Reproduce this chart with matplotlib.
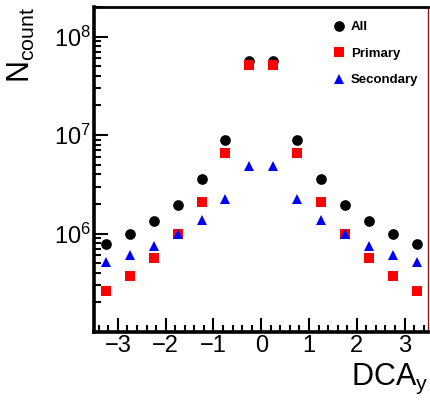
import matplotlib
matplotlib.use("Agg")
import matplotlib.pyplot as plt
from matplotlib.ticker import FixedLocator, MultipleLocator, LogLocator, NullFormatter

plt.rcParams["font.family"] = ["Liberation Sans", "DejaVu Sans"]
plt.rcParams["mathtext.fontset"] = "custom"
plt.rcParams["mathtext.rm"] = "Liberation Sans"
plt.rcParams["mathtext.it"] = "Liberation Sans:italic"
plt.rcParams["mathtext.bf"] = "Liberation Sans:bold"

# DCA_y bin centres
dca_y = [-3.25, -2.75, -2.25, -1.75, -1.25, -0.75, -0.25,
         0.25, 0.75, 1.25, 1.75, 2.25, 2.75, 3.25]

# counts per bin
n_all = [7.8e5, 1.0e6, 1.35e6, 1.97e6, 3.6e6, 8.9e6, 5.7e7,
         5.7e7, 8.9e6, 3.6e6, 1.97e6, 1.35e6, 1.0e6, 7.8e5]
n_primary = [2.6e5, 3.7e5, 5.7e5, 1.0e6, 2.1e6, 6.6e6, 5.1e7,
             5.1e7, 6.6e6, 2.1e6, 1.0e6, 5.7e5, 3.7e5, 2.6e5]
n_secondary = [5.1e5, 6.1e5, 7.5e5, 1.0e6, 1.37e6, 2.25e6, 4.9e6,
               4.9e6, 2.25e6, 1.37e6, 1.0e6, 7.5e5, 6.1e5, 5.1e5]

x_ticks = [-3, -2, -1, 0, 1, 2, 3]
y_ticks = [1e6, 1e7, 1e8]

fig = plt.figure(figsize=(4.31, 4.04), dpi=100)
ax = fig.add_axes([94 / 431, 1 - 332 / 404, 334.5 / 431, 325 / 404])

ms = 7.7
ax.plot(dca_y, n_all, "o", color="black", ms=ms, mew=0, label="All", zorder=3)
ax.plot(dca_y, n_primary, "s", color="#ff0000", ms=ms, mew=0, label="Primary", zorder=4)
ax.plot(dca_y, n_secondary, "^", color="#0000ff", ms=ms, mew=0, label="Secondary", zorder=5)

ax.set_yscale("log")
ax.set_xlim(-3.5, 3.5)
ax.set_ylim(1.0e5, 2.0e8)

ax.xaxis.set_major_locator(FixedLocator(x_ticks))
ax.xaxis.set_minor_locator(MultipleLocator(0.2))
ax.yaxis.set_major_locator(FixedLocator(y_ticks))
ax.yaxis.set_minor_locator(LogLocator(base=10, subs=range(2, 10)))
ax.yaxis.set_minor_formatter(NullFormatter())

ax.tick_params(which="both", direction="in", top=False, right=False, width=1.5)
ax.tick_params(which="major", length=10, labelsize=17)
ax.tick_params(which="minor", length=5)
ax.tick_params(axis="x", pad=2)
ax.tick_params(axis="y", pad=2)

for side in ("left", "bottom"):
    ax.spines[side].set_linewidth(2.6)
ax.spines["top"].set_linewidth(2.0)
ax.spines["right"].set_linewidth(1.0)
ax.spines["right"].set_color("#8b1a1a")

ax.set_xlabel(r"DCA$_{\mathrm{y}}$", fontsize=22, loc="right")
ax.xaxis.set_label_coords(1.0, -0.093)
ax.set_ylabel(r"N$_{\mathrm{count}}$", fontsize=22, loc="top")
ax.yaxis.set_label_coords(-0.17, 1.0)

leg = ax.legend(loc="upper left", bbox_to_anchor=(0.713, 0.957), frameon=False,
                borderpad=0, handlelength=1.0, handletextpad=0.41,
                labelspacing=1.09, numpoints=1, borderaxespad=0,
                prop={"weight": "bold", "size": 9.5})

fig.savefig("out.png", dpi=100, facecolor="white")
